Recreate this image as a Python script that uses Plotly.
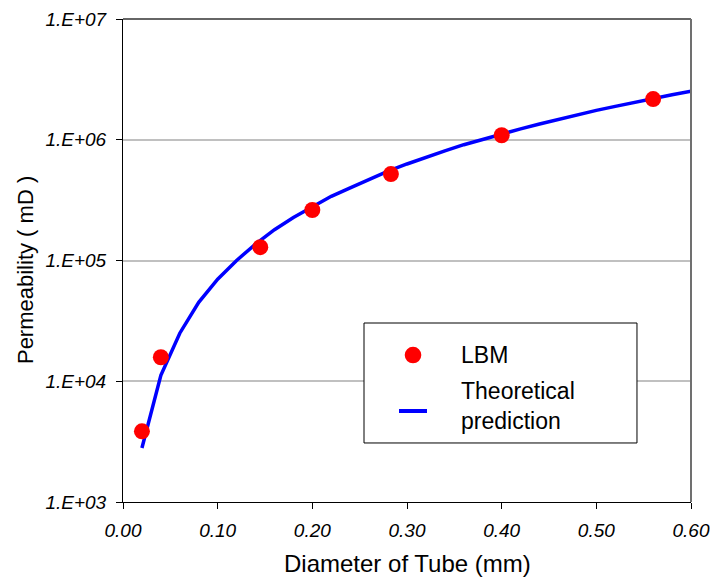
import plotly.graph_objects as go

# LBM simulation results: tube diameter (mm) vs permeability (mD)
lbm_diameter = [0.02, 0.04, 0.145, 0.20, 0.283, 0.40, 0.56]
lbm_perm = [3.85e3, 1.58e4, 1.29e5, 2.62e5, 5.2e5, 1.09e6, 2.17e6]

# Theoretical prediction curve
theory_diameter = [0.02, 0.04, 0.06, 0.08, 0.10, 0.12, 0.14, 0.16, 0.18, 0.20,
                   0.22, 0.24, 0.26, 0.28, 0.30, 0.32, 0.34, 0.36, 0.38, 0.40,
                   0.42, 0.44, 0.46, 0.48, 0.50, 0.52, 0.54, 0.56, 0.58, 0.60]
theory_perm = [2.8e3, 1.12e4, 2.5e4, 4.5e4, 7.0e4, 1.0e5, 1.37e5, 1.8e5, 2.27e5, 2.8e5,
               3.4e5, 4.0e5, 4.7e5, 5.5e5, 6.3e5, 7.2e5, 8.1e5, 9.1e5, 1.01e6, 1.12e6,
               1.23e6, 1.35e6, 1.48e6, 1.61e6, 1.75e6, 1.89e6, 2.04e6, 2.2e6, 2.36e6, 2.52e6]

x_ticks = [0.0, 0.1, 0.2, 0.3, 0.4, 0.5, 0.6]
x_tick_labels = ["0.00", "0.10", "0.20", "0.30", "0.40", "0.50", "0.60"]
y_ticks = [1e3, 1e4, 1e5, 1e6, 1e7]
y_tick_labels = ["1.E+03", "1.E+04", "1.E+05", "1.E+06", "1.E+07"]

FONT = "Liberation Sans, Arial, sans-serif"
LINE_BLUE = "#0000FF"
DOT_RED = "#FF0000"

fig = go.Figure()
fig.add_trace(go.Scatter(
    x=theory_diameter, y=theory_perm, mode="lines",
    name="Theoretical prediction",
    line=dict(color=LINE_BLUE, width=3.5),
))
fig.add_trace(go.Scatter(
    x=lbm_diameter, y=lbm_perm, mode="markers",
    name="LBM",
    marker=dict(color=DOT_RED, size=16, line=dict(width=0)),
))

fig.update_layout(
    width=710, height=580,
    margin=dict(l=123, r=19, t=19, b=78),
    paper_bgcolor="white", plot_bgcolor="white",
    font=dict(family=FONT, color="black"),
    showlegend=False,
    xaxis=dict(
        range=[0, 0.6], tickvals=x_ticks, ticktext=x_tick_labels,
        ticks="outside", ticklen=6, tickcolor="black", ticklabelstandoff=5,
        showline=True, linecolor="black", linewidth=1,
        showgrid=False, zeroline=False, automargin=False,
        tickfont=dict(size=19, style="italic", family=FONT),
    ),
    yaxis=dict(
        type="log", range=[3, 7], tickvals=y_ticks, ticktext=y_tick_labels,
        ticks="outside", ticklen=6, tickcolor="black", ticklabelstandoff=6,
        showline=True, linecolor="black", linewidth=1,
        showgrid=True, gridcolor="#C0C0C0", gridwidth=1.5,
        zeroline=False, automargin=False,
        tickfont=dict(size=19, style="italic", family=FONT),
    ),
)

# Axis titles
fig.add_annotation(text="Diameter of Tube (mm)", xref="paper", yref="paper",
                   x=0.5, y=-0.1263, xanchor="center", yanchor="middle",
                   showarrow=False, font=dict(size=24, family=FONT))
fig.add_annotation(text="Permeability ( mD )", xref="paper", yref="paper",
                   x=-0.1725, y=0.4803, xanchor="center", yanchor="middle",
                   textangle=-90, showarrow=False, font=dict(size=22, family=FONT))

# Top and right frame edges
fig.add_shape(type="line", xref="paper", yref="paper", x0=0, x1=1, y0=1, y1=1,
              line=dict(color="#333333", width=1.5))
fig.add_shape(type="line", xref="paper", yref="paper", x0=1, x1=1, y0=0, y1=1,
              line=dict(color="#707070", width=2))

# Legend box
fig.add_shape(type="rect", xref="paper", yref="paper",
              x0=0.4243, x1=0.9049, y0=0.1222, y1=0.3706,
              fillcolor="white", line=dict(color="black", width=1), layer="above")
fig.add_shape(type="circle", xref="paper", yref="paper",
              xsizemode="pixel", ysizemode="pixel",
              xanchor=0.5106, yanchor=0.3043, x0=-8.3, x1=8.3, y0=-8.3, y1=8.3,
              fillcolor=DOT_RED, line=dict(width=0), layer="above")
fig.add_shape(type="line", xref="paper", yref="paper",
              x0=0.4859, x1=0.5352, y0=0.1884, y1=0.1884,
              line=dict(color=LINE_BLUE, width=4), layer="above")
fig.add_annotation(text="LBM", xref="paper", yref="paper", x=0.5915, y=0.3043,
                   xanchor="left", yanchor="middle", showarrow=False,
                   font=dict(size=23, family=FONT))
fig.add_annotation(text="Theoretical<br>prediction", xref="paper", yref="paper",
                   x=0.5915, y=0.1988, xanchor="left", yanchor="middle", align="left",
                   showarrow=False, font=dict(size=23, family=FONT))

fig.write_html("out.html")
